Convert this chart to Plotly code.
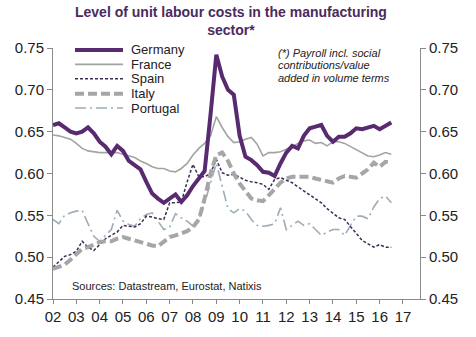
import plotly.graph_objects as go

# Quarterly observations 2002Q1 .. 2016Q3
quarters = [2002 + i / 4 for i in range(59)]

germany = [0.658, 0.660, 0.655, 0.650, 0.648, 0.650, 0.655, 0.648, 0.638, 0.632,
           0.623, 0.633, 0.627, 0.615, 0.610, 0.605, 0.590, 0.576, 0.570, 0.565,
           0.570, 0.575, 0.566, 0.574, 0.585, 0.595, 0.603, 0.670, 0.742, 0.716,
           0.700, 0.694, 0.645, 0.620, 0.616, 0.610, 0.602, 0.601, 0.597, 0.612,
           0.625, 0.633, 0.630, 0.645, 0.654, 0.656, 0.658, 0.645, 0.638, 0.644,
           0.644, 0.648, 0.654, 0.653, 0.655, 0.657, 0.653, 0.657, 0.661]

france = [0.646, 0.645, 0.643, 0.641, 0.636, 0.630, 0.627, 0.626, 0.625, 0.625,
          0.625, 0.625, 0.623, 0.621, 0.619, 0.615, 0.612, 0.608, 0.606, 0.606,
          0.603, 0.602, 0.606, 0.612, 0.622, 0.630, 0.636, 0.645, 0.668, 0.655,
          0.644, 0.637, 0.638, 0.641, 0.643, 0.635, 0.621, 0.625, 0.625, 0.626,
          0.629, 0.632, 0.636, 0.639, 0.640, 0.636, 0.637, 0.633, 0.638, 0.638,
          0.636, 0.632, 0.629, 0.625, 0.621, 0.620, 0.622, 0.625, 0.623]

spain = [0.488, 0.494, 0.501, 0.503, 0.507, 0.519, 0.512, 0.508, 0.515, 0.522,
         0.526, 0.530, 0.538, 0.537, 0.536, 0.540, 0.549, 0.548, 0.546, 0.545,
         0.565, 0.565, 0.566, 0.590, 0.611, 0.596, 0.596, 0.600, 0.617, 0.601,
         0.598, 0.599, 0.595, 0.592, 0.590, 0.589, 0.587, 0.581, 0.593, 0.595,
         0.592, 0.589, 0.584, 0.579, 0.575, 0.570, 0.565, 0.558, 0.552, 0.547,
         0.545, 0.537, 0.528, 0.520, 0.516, 0.512, 0.515, 0.512, 0.512]

italy = [0.486, 0.488, 0.491, 0.497, 0.503, 0.510, 0.512, 0.515, 0.518, 0.519,
         0.519, 0.522, 0.524, 0.522, 0.520, 0.518, 0.515, 0.514, 0.513, 0.518,
         0.524, 0.526, 0.528, 0.531, 0.536, 0.545, 0.570, 0.600, 0.622, 0.625,
         0.615, 0.600, 0.588, 0.578, 0.570, 0.568, 0.567, 0.574, 0.582, 0.589,
         0.594, 0.596, 0.596, 0.596, 0.596, 0.594, 0.592, 0.590, 0.589, 0.594,
         0.597, 0.596, 0.595, 0.600, 0.605, 0.613, 0.608, 0.614, 0.613]

portugal = [0.545, 0.540, 0.550, 0.553, 0.555, 0.556, 0.540, 0.525, 0.519, 0.526,
            0.533, 0.556, 0.543, 0.539, 0.537, 0.546, 0.551, 0.553, 0.543, 0.533,
            0.536, 0.552, 0.547, 0.543, 0.537, 0.545, 0.565, 0.590, 0.612, 0.585,
            0.558, 0.553, 0.558, 0.555, 0.545, 0.538, 0.537, 0.538, 0.540, 0.559,
            0.533, 0.538, 0.543, 0.538, 0.540, 0.533, 0.526, 0.530, 0.533, 0.533,
            0.526, 0.538, 0.549, 0.549, 0.546, 0.560, 0.570, 0.573, 0.565]

year_ticks = list(range(2002, 2018))
year_labels = ["02", "03", "04", "05", "06", "07", "08", "09", "10", "11",
               "12", "13", "14", "15", "16", "17"]
y_ticks = [0.45, 0.50, 0.55, 0.60, 0.65, 0.70, 0.75]
y_labels = ["0.45", "0.50", "0.55", "0.60", "0.65", "0.70", "0.75"]

names = ["Germany", "France", "Spain", "Italy", "Portugal"]
colors = {"Germany": "#582a70", "France": "#a3a3a3", "Spain": "#3e2a58",
          "Italy": "#a6a6a6", "Portugal": "#9cadb8"}
widths = {"Germany": 4, "France": 1.6, "Spain": 1.5, "Italy": 4, "Portugal": 1.6}
dashes = {"Germany": "solid", "France": "solid", "Spain": "3px,2px",
          "Italy": "9px,4px", "Portugal": "11px,4px,2px,4px"}
series = {"Germany": germany, "France": france, "Spain": spain,
          "Italy": italy, "Portugal": portugal}

fig = go.Figure()
for n in ["Portugal", "Spain", "Italy", "France", "Germany"]:
    fig.add_trace(go.Scatter(x=quarters, y=series[n], mode="lines", name=n,
                             showlegend=False,
                             line=dict(color=colors[n], width=widths[n], dash=dashes[n])))
# invisible trace to drive right axis
fig.add_trace(go.Scatter(x=[quarters[0]], y=[germany[0]], yaxis="y2", mode="lines",
                         showlegend=False, hoverinfo="skip", line=dict(width=0)))

axis_color = "#8a8a8a"
font_main = "Liberation Sans, Arial, sans-serif"

fig.update_layout(
    width=476, height=337,
    margin=dict(l=53, r=56, t=48, b=36),
    paper_bgcolor="white", plot_bgcolor="white",
    font=dict(family=font_main, color="#222222"),
    showlegend=False,
    xaxis=dict(range=[2002, 2017.73], tickmode="array", tickvals=year_ticks,
               ticktext=year_labels, showgrid=False, zeroline=False,
               showline=True, linecolor=axis_color, linewidth=1,
               ticks="outside", ticklen=4, tickcolor=axis_color,
               tickfont=dict(size=15, color="#222222")),
    yaxis=dict(range=[0.45, 0.75], tickmode="array", tickvals=y_ticks,
               ticktext=y_labels, showgrid=False, zeroline=False,
               showline=True, linecolor=axis_color, linewidth=1,
               ticks="outside", ticklen=5, tickcolor=axis_color,
               tickfont=dict(size=15, color="#222222")),
    yaxis2=dict(range=[0.45, 0.75], tickmode="array", tickvals=y_ticks,
                ticktext=y_labels, overlaying="y", side="right",
                showgrid=False, zeroline=False, showline=True,
                linecolor=axis_color, linewidth=1, ticks="outside", ticklen=5,
                tickcolor=axis_color, tickfont=dict(size=15, color="#222222")),
)

# Title
fig.add_annotation(text="<b>Level of unit labour costs in the manufacturing<br>sector*</b>",
                   xref="paper", yref="paper", x=(231 - 53) / 367, y=1 + (48 - 2) / 253,
                   xanchor="center", yanchor="top", showarrow=False, align="center",
                   font=dict(size=14, color="#4a2a5e", family=font_main))

# Manual legend
plot_h = 253.0
plot_w = 367.0
def px_x(px):
    return (px - 53) / plot_w
def px_y(py):
    return (301 - py) / plot_h

legend_rows = [50, 64.5, 79, 94, 108.5]
for n, ry in zip(names, legend_rows):
    fig.add_shape(type="line", xref="paper", yref="paper",
                  x0=px_x(75), x1=px_x(123), y0=px_y(ry), y1=px_y(ry),
                  line=dict(color=colors[n], width=widths[n], dash=dashes[n]))
    fig.add_annotation(text=n, xref="paper", yref="paper", x=px_x(129), y=px_y(ry),
                       xanchor="left", yanchor="middle", showarrow=False,
                       font=dict(size=13, color="#222222", family=font_main))

# Footnote
note_lines = ["(*) Payroll incl. social", "contributions/value", "added in volume terms"]
for line, ry in zip(note_lines, [53, 65.5, 78]):
    fig.add_annotation(text="<i>" + line + "</i>", xref="paper", yref="paper",
                       x=px_x(276), y=px_y(ry), xanchor="left", yanchor="middle",
                       showarrow=False, font=dict(size=11, color="#222222", family=font_main))

# Sources
fig.add_annotation(text="Sources: Datastream, Eurostat, Natixis", xref="paper", yref="paper",
                   x=px_x(70), y=px_y(288), xanchor="left", yanchor="middle",
                   showarrow=False, font=dict(size=11, color="#222222", family=font_main))

fig.write_html("out.html")
